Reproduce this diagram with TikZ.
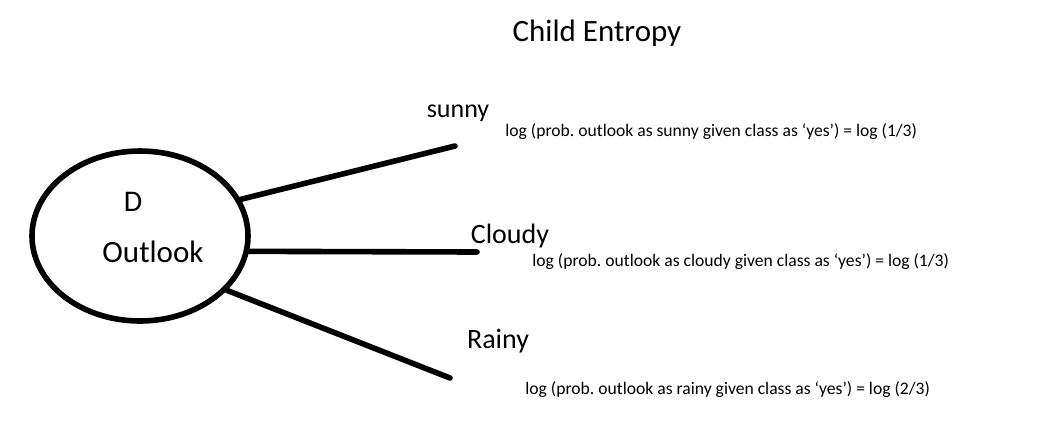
\documentclass[tikz,border=0pt]{standalone}
\usepackage{fontspec}
\setmainfont{Carlito}
\usetikzlibrary{shapes.geometric}
\frenchspacing

\begin{document}
\begin{tikzpicture}[x=0.5pt,y=-0.5pt,
	branch/.style={line width=2.8pt,line cap=round},
	big/.style={font=\fontsize{14pt}{16pt}\selectfont},
	small/.style={font=\fontsize{8.8pt}{10pt}\selectfont,anchor=west,inner sep=0pt}]
\useasboundingbox (0,0) rectangle (1048,424);
\node[font=\fontsize{15.5pt}{17pt}\selectfont] (title) at (597,33) {Child Entropy};
% root node
\node[draw,ellipse,line width=2.8pt,minimum width=108pt,minimum height=85pt] (root) at (140,236) {};
\node[font=\fontsize{15pt}{17pt}\selectfont] (d) at (133,202) {D};
\node[font=\fontsize{15.5pt}{17pt}\selectfont] (outlook) at (153,252) {Outlook};
% branch ends
\coordinate (sunnyend) at (455,146);
\coordinate (cloudyend) at (477,252);
\coordinate (rainyend) at (450,378);
\draw[branch] (root.20) -- (sunnyend);
\draw[branch] (root.-8.5) -- (cloudyend);
\draw[branch] (root.-32) -- (rainyend);
% labels
\node[font=\fontsize{13pt}{15pt}\selectfont] (sunny) at (458,113) {sunny};
\node[big] (cloudy) at (510,236) {Cloudy};
\node[big] (rainy) at (498,341) {Rainy};
\node[small] (psunny) at (505,132) {log (prob. outlook as sunny given class as ‘yes’) = log (1/3)};
\node[small] (pcloudy) at (532,262) {log (prob. outlook as cloudy given class as ‘yes’) = log (1/3)};
\node[small] (prainy) at (525,390) {log (prob. outlook as rainy given class as ‘yes’) = log (2/3)};
\end{tikzpicture}
\end{document}
